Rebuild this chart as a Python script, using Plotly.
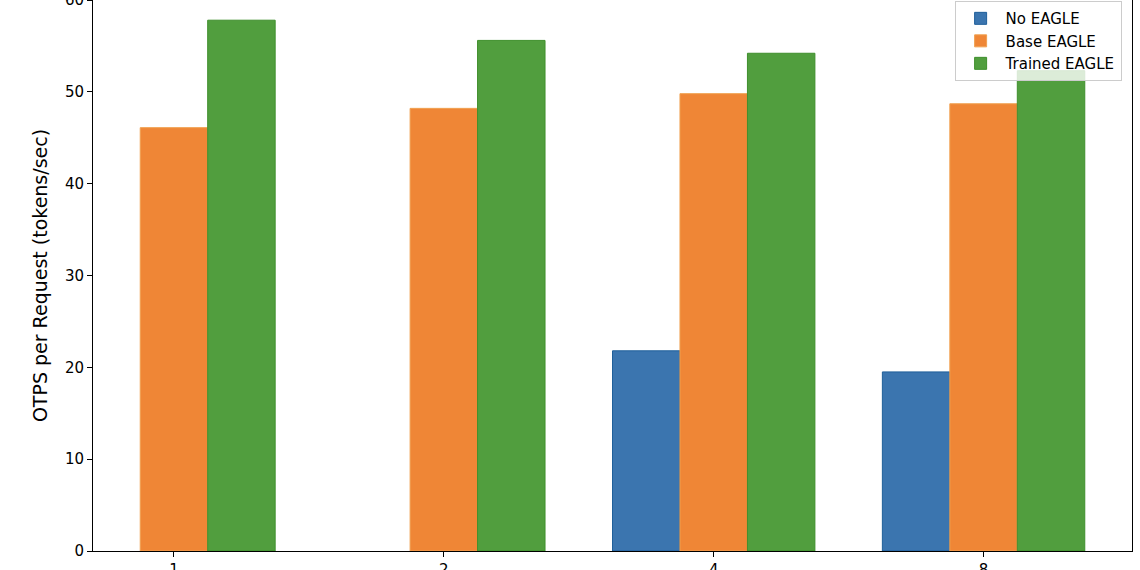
import plotly.graph_objects as go

# batch sizes on the x axis
batch_labels = ["1", "2", "4", "8"]
batch_pos = [0, 1, 2, 3]

# OTPS per request (tokens/sec)
no_eagle = [None, None, 21.8, 19.5]
base_eagle = [46.1, 48.2, 49.8, 48.7]
trained_eagle = [57.8, 55.6, 54.2, 52.3]

series = [
    ("No EAGLE", no_eagle, "#3b75af", "#1f5f9a"),
    ("Base EAGLE", base_eagle, "#ef8636", "#f0a050"),
    ("Trained EAGLE", trained_eagle, "#519e3e", "#3f8f2c"),
]

fig = go.Figure()
for name, vals, fill, edge in series:
    fig.add_trace(go.Bar(
        x=batch_pos, y=vals, name=name,
        marker=dict(color=fill, line=dict(color=edge, width=1)),
    ))

fig.update_layout(
    width=1140, height=570,
    barmode="group", bargap=0.25, bargroupgap=0,
    plot_bgcolor="white", paper_bgcolor="white",
    font=dict(family="DejaVu Sans", size=15, color="black"),
    margin=dict(l=93, r=8, t=0, b=19),
    showlegend=True,
    legend=dict(
        x=0.990, y=0.998, xanchor="right", yanchor="top",
        bgcolor="rgba(255,255,255,0.8)", bordercolor="#cccccc", borderwidth=1,
        font=dict(size=15), itemwidth=40,
    ),
    xaxis=dict(
        range=[-0.3, 3.55], tickmode="array", tickvals=batch_pos, ticktext=batch_labels,
        showline=True, linecolor="black", linewidth=1, mirror=False, automargin=False,
        ticks="outside", ticklen=5, tickcolor="black", showgrid=False, zeroline=False,
        ticklabeloverflow="allow",
    ),
    yaxis=dict(
        range=[0, 60], dtick=10,
        showline=True, linecolor="black", linewidth=1, mirror=True, automargin=False,
        ticks="outside", ticklen=5, tickcolor="black", showgrid=False, zeroline=False,
        ticklabeloverflow="allow",
        title=dict(text="OTPS per Request (tokens/sec)", font=dict(size=19), standoff=12),
    ),
)

# page body has a default 8px margin; drop it so the figure fills the window
fig.write_html("out.html", config={"displayModeBar": False},
               post_script="document.body.style.margin='0px';")
